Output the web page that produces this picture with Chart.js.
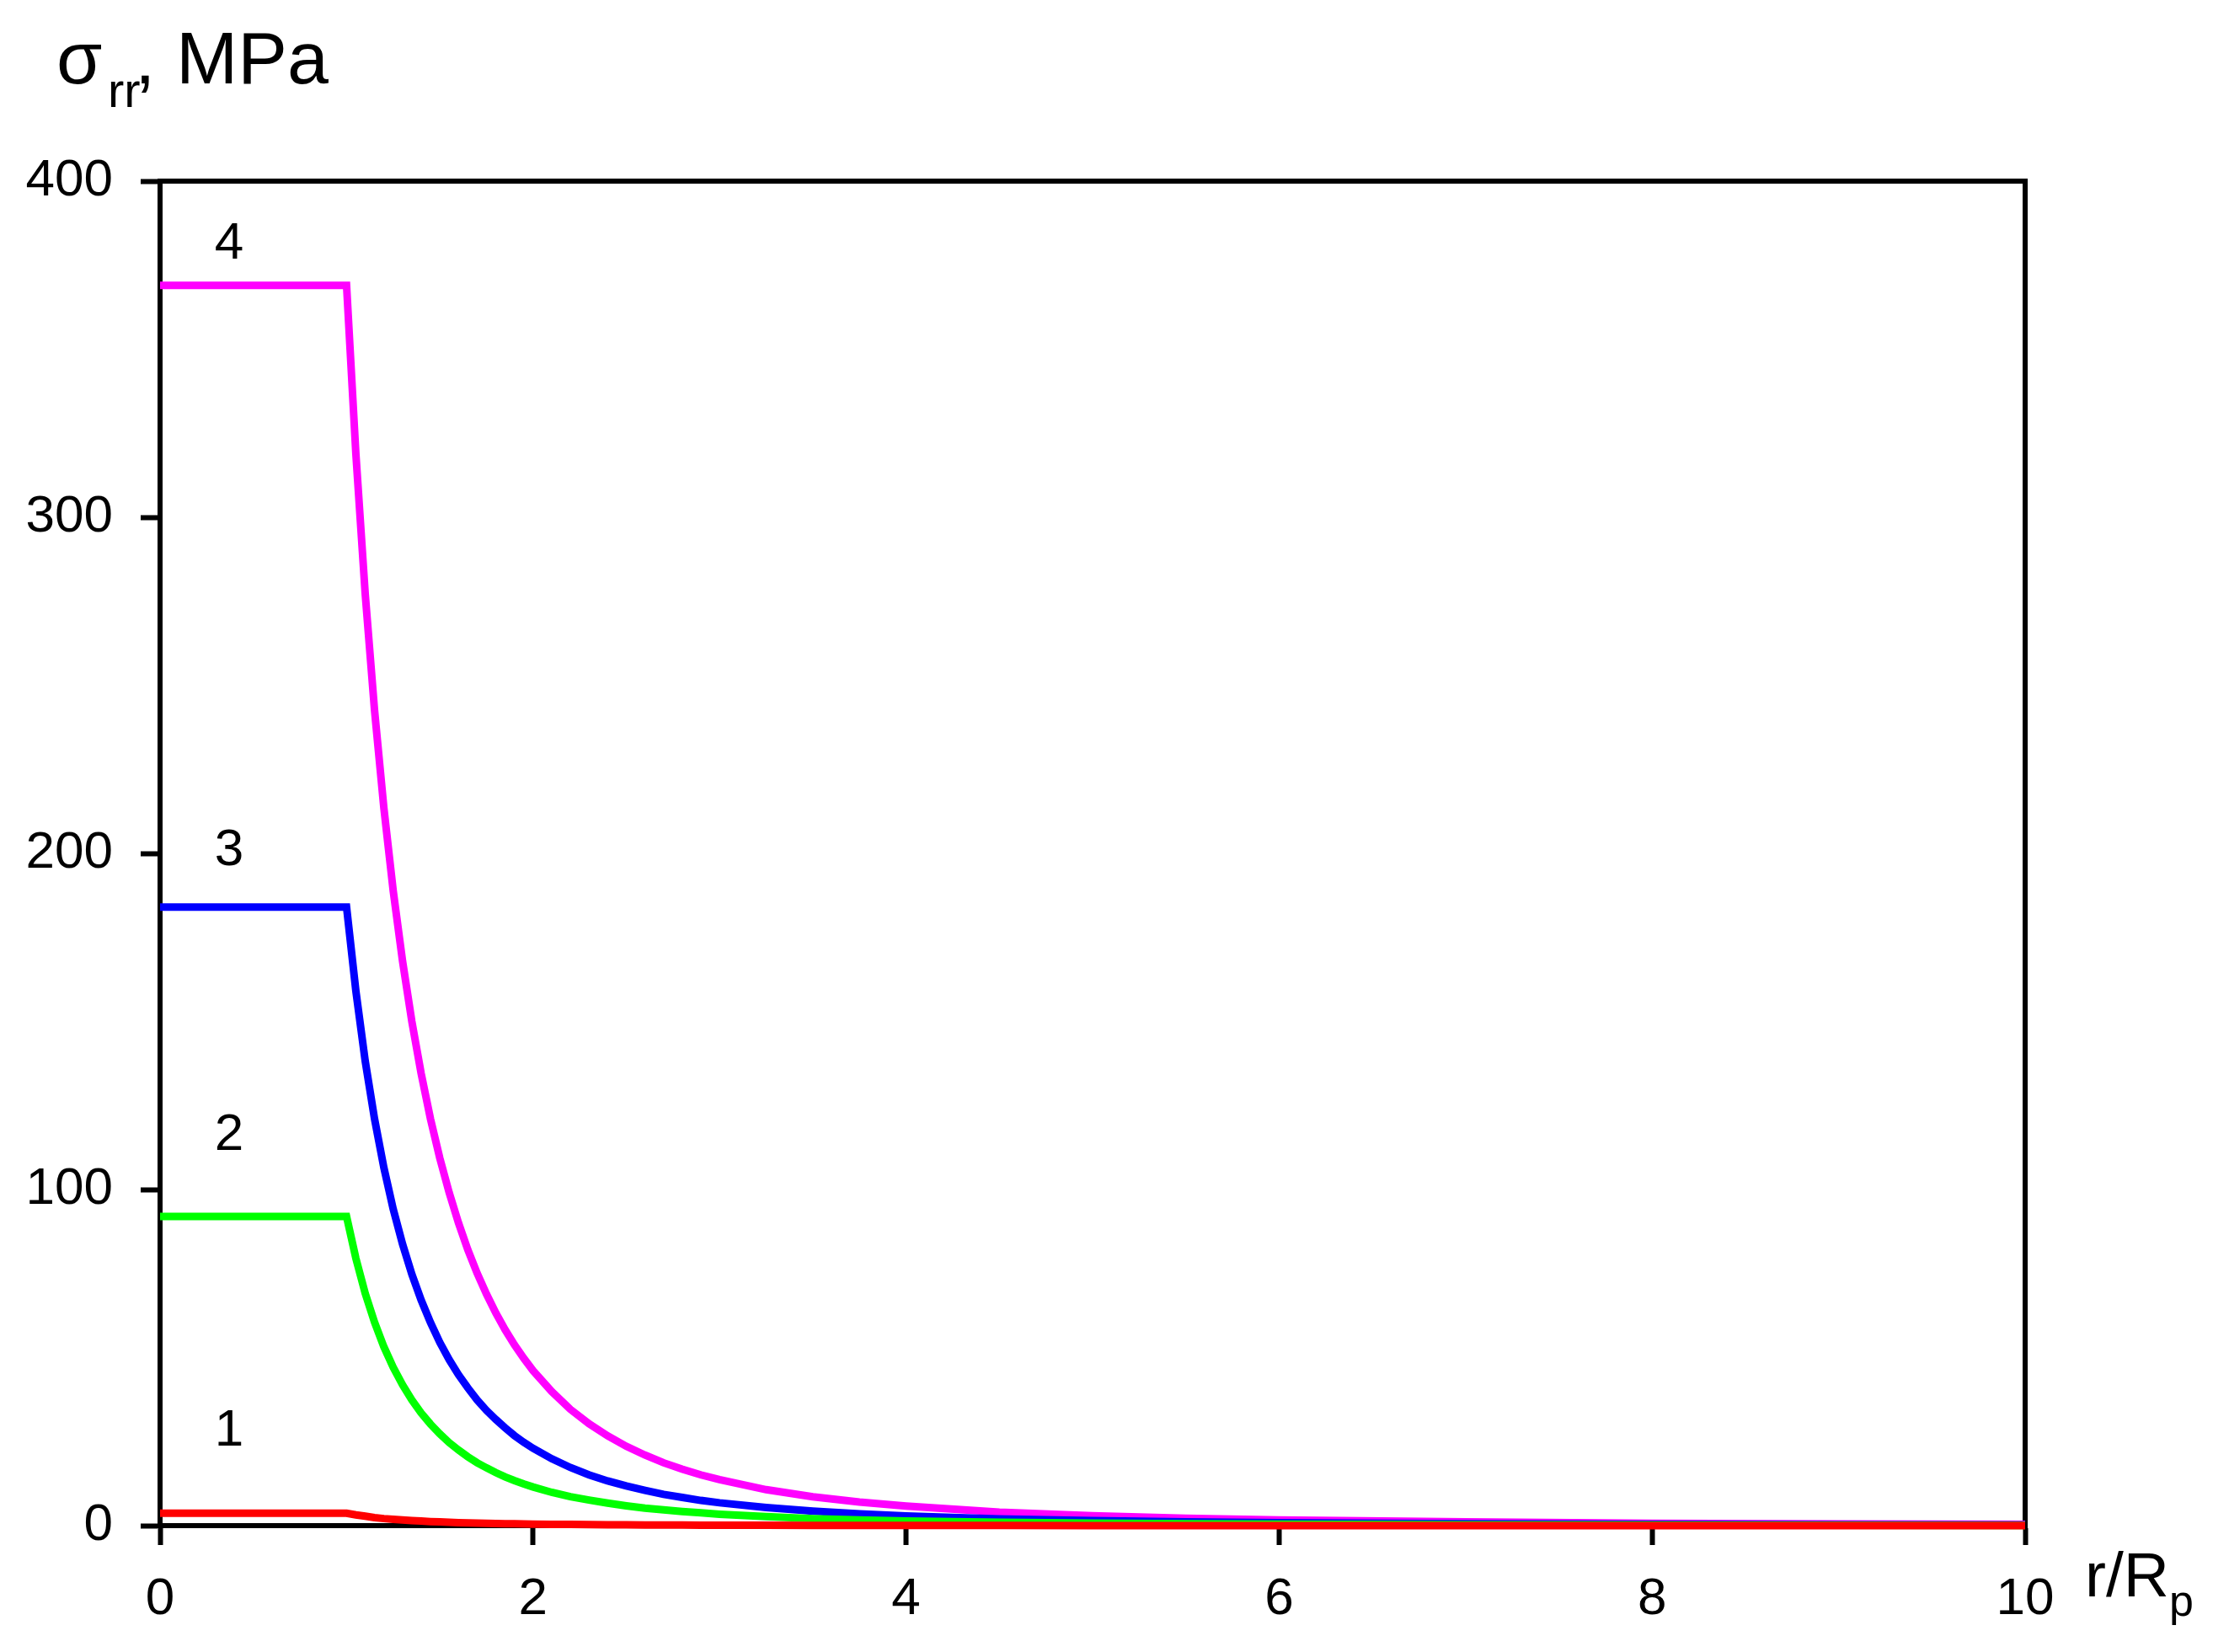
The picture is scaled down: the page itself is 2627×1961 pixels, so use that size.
<!DOCTYPE html>
<html><head><meta charset="utf-8">
<script src="https://cdn.jsdelivr.net/npm/chart.js@4/dist/chart.umd.min.js"></script>
<style>html,body{margin:0;padding:0;background:#fff;overflow:hidden}#wrap{width:2627px;height:1961px;position:relative}</style>
</head><body><div id="wrap"><canvas id="c" width="2627" height="1961"></canvas></div>
<script>
// r / Rp sample positions
const rValues = [0, 1, 1.05, 1.1, 1.15, 1.2, 1.25, 1.3, 1.35, 1.4, 1.45, 1.5, 1.55, 1.6, 1.65, 1.7, 1.75, 1.8, 1.85, 1.9, 1.95, 2, 2.1, 2.2, 2.3, 2.4, 2.5, 2.6, 2.7, 2.8, 2.9, 3, 3.25, 3.5, 3.75, 4, 4.5, 5, 5.5, 6, 7, 8, 9, 10];
// sigma_rr, MPa
const curve1 = [3.7, 3.7, 3.2, 2.8, 2.4, 2.1, 1.9, 1.7, 1.5, 1.35, 1.2, 1.1, 1.0, 0.9, 0.82, 0.75, 0.69, 0.63, 0.58, 0.54, 0.5, 0.46, 0.4, 0.35, 0.3, 0.27, 0.24, 0.21, 0.19, 0.17, 0.15, 0.14, 0.11, 0.09, 0.07, 0.06, 0.04, 0.03, 0.02, 0.017, 0.011, 0.007, 0.005, 0.004];
const curve2 = [92, 92, 79.5, 69.1, 60.5, 53.2, 47.1, 41.9, 37.4, 33.5, 30.2, 27.3, 24.7, 22.5, 20.5, 18.7, 17.2, 15.8, 14.5, 13.4, 12.4, 11.5, 9.9, 8.6, 7.6, 6.7, 5.9, 5.2, 4.7, 4.2, 3.8, 3.4, 2.7, 2.1, 1.7, 1.4, 1.0, 0.74, 0.55, 0.43, 0.27, 0.18, 0.13, 0.09];
const curve3 = [184, 184, 159.0, 138.2, 121.0, 106.5, 94.2, 83.8, 74.8, 67.1, 60.4, 54.5, 49.4, 44.9, 41.0, 37.4, 34.3, 31.6, 29.1, 26.8, 24.8, 23.0, 19.9, 17.3, 15.1, 13.3, 11.8, 10.5, 9.3, 8.4, 7.5, 6.8, 5.4, 4.3, 3.5, 2.9, 2.0, 1.5, 1.1, 0.85, 0.54, 0.36, 0.25, 0.18];
const curve4 = [369, 369, 318.8, 277.2, 242.6, 213.5, 188.9, 168.0, 150.0, 134.5, 121.0, 109.3, 99.1, 90.1, 82.1, 75.1, 68.9, 63.3, 58.3, 53.8, 49.8, 46.1, 39.9, 34.6, 30.3, 26.7, 23.6, 21.0, 18.7, 16.8, 15.1, 13.7, 10.7, 8.6, 7.0, 5.8, 4.0, 2.95, 2.2, 1.7, 1.1, 0.7, 0.5, 0.4];
const curveNames = ['1', '2', '3', '4'];
const curveColors = ['#FF0000', '#00FF00', '#0000FF', '#FF00FF'];
const xTicks = [0, 2, 4, 6, 8, 10];
const yTicks = [0, 100, 200, 300, 400];
// label anchors (data coords, text baseline)
const labelR = [0.37, 0.37, 0.37, 0.37];
const labelS = [23.8, 111.8, 196.5, 377];

const series = [curve1, curve2, curve3, curve4];
const datasets = series.map((vals, i) => ({
  label: curveNames[i],
  data: rValues.map((r, k) => ({x: r, y: vals[k]})),
  borderColor: curveColors[i],
  borderWidth: 9,
  pointRadius: 0,
  tension: 0,
  fill: false,
  clip: false,
  borderCapStyle: 'butt',
  borderJoinStyle: 'miter'
}));

const FONT = '"Liberation Sans", Arial, sans-serif';

const framePlugin = {
  id: 'frame',
  beforeDatasetsDraw(chart) {
    const {ctx, chartArea: a} = chart;
    ctx.save();
    ctx.strokeStyle = '#000';
    ctx.lineWidth = 6;
    ctx.lineCap = 'square';
    ctx.beginPath();
    ctx.moveTo(a.left, a.top);
    ctx.lineTo(a.right, a.top);
    ctx.lineTo(a.right, a.bottom);
    ctx.stroke();
    ctx.restore();
  },
  afterDraw(chart) {
    const {ctx, scales} = chart;
    ctx.save();
    ctx.fillStyle = '#000';
    ctx.textBaseline = 'alphabetic';
    ctx.textAlign = 'left';
    // y title
    ctx.font = '88px ' + FONT;
    ctx.fillText('σ', 67, 99);
    ctx.font = '58px ' + FONT;
    ctx.fillText('rr', 128, 127);
    ctx.font = '88px ' + FONT;
    ctx.fillText(', MPa', 160, 99);
    // x title
    ctx.font = '75px ' + FONT;
    ctx.fillText('r/R', 2475, 1895);
    ctx.font = '52px ' + FONT;
    ctx.fillText('p', 2575, 1918);
    // curve labels
    ctx.font = '62px ' + FONT;
    ctx.textAlign = 'center';
    for (let i = 0; i < curveNames.length; i++) {
      ctx.fillText(curveNames[i], scales.x.getPixelForValue(labelR[i]), scales.y.getPixelForValue(labelS[i]));
    }
    ctx.restore();
  }
};

const axisCommon = {
  type: 'linear',
  grid: {display: true, drawOnChartArea: false, drawTicks: true, tickLength: 23, tickWidth: 6, tickColor: '#000', color: '#000'},
  border: {display: true, color: '#000', width: 6},
};

new Chart(document.getElementById('c'), {
  type: 'line',
  data: {datasets},
  options: {
    responsive: false,
    devicePixelRatio: 1,
    animation: false,
    events: [],
    layout: {padding: {left: 0, top: 215, right: 223, bottom: 0}},
    plugins: {legend: {display: false}, tooltip: {enabled: false}, title: {display: false}},
    scales: {
      x: Object.assign({}, axisCommon, {
        min: 0, max: 10,
        afterBuildTicks: s => { s.ticks = xTicks.map(v => ({value: v})); },
        afterFit: s => { s.height = 150; },
        ticks: {color: '#000', font: {size: 62, family: FONT}, padding: 28, maxRotation: 0, autoSkip: false}
      }),
      y: Object.assign({}, axisCommon, {
        min: 0, max: 400,
        afterBuildTicks: s => { s.ticks = yTicks.map(v => ({value: v})); },
        afterFit: s => { s.width = 190; },
        ticks: {color: '#000', font: {size: 62, family: FONT}, padding: 33, autoSkip: false}
      })
    }
  },
  plugins: [framePlugin]
});
</script></body></html>
